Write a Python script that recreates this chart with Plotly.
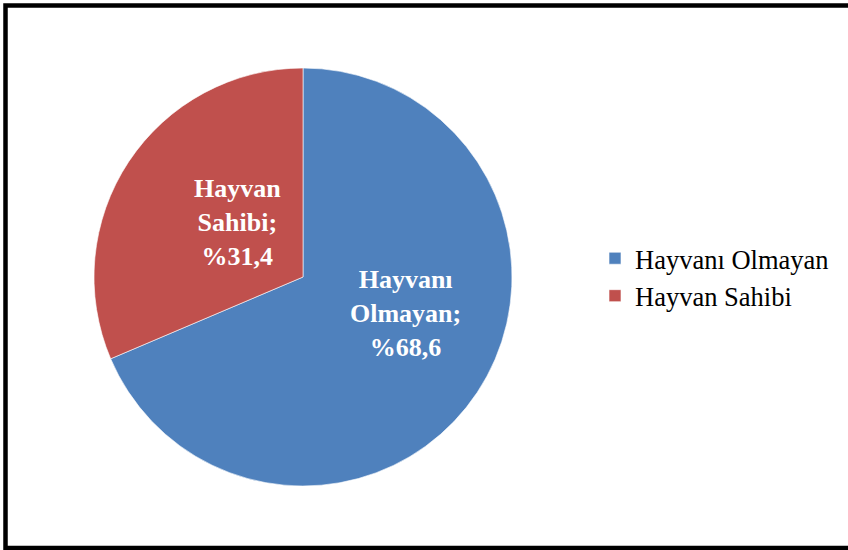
import plotly.graph_objects as go

W, H = 848, 550

labels = ["Hayvanı Olmayan", "Hayvan Sahibi"]
values = [68.6, 31.4]
slice_names = ["Hayvanı<br>Olmayan;", "Hayvan<br>Sahibi;"]
colors = ["#4F81BD", "#C0504D"]

label_text = [f"{t}<br>%{v:.1f}".replace(".", ",") for t, v in zip(slice_names, values)]
# label anchor positions (pixels in the figure)
label_pos = [(405, 313), (237, 223)]

fig = go.Figure()
fig.add_trace(go.Pie(
    labels=labels,
    values=values,
    textinfo="none",
    sort=False,
    direction="clockwise",
    rotation=0,
    marker=dict(colors=colors, line=dict(color="#FFFFFF", width=0.6)),
    domain=dict(x=[94 / W, 512 / W], y=[(H - 486) / H, (H - 68) / H]),
    hoverinfo="label+percent",
))

annotations = [
    dict(
        text=txt, x=px / W, y=(H - py) / H, xref="paper", yref="paper",
        xanchor="center", yanchor="middle", showarrow=False, align="center",
        font=dict(family="Liberation Serif", size=26, color="#FFFFFF", weight="bold"),
    )
    for txt, (px, py) in zip(label_text, label_pos)
]

fig.update_layout(
    width=W, height=H,
    margin=dict(l=0, r=0, t=0, b=0),
    paper_bgcolor="#FFFFFF",
    plot_bgcolor="#FFFFFF",
    showlegend=True,
    legend=dict(
        x=595 / W, y=(H - 277) / H, xanchor="left", yanchor="middle",
        font=dict(family="Liberation Serif", size=26.5, color="#000000"),
        itemwidth=30,
        bgcolor="rgba(0,0,0,0)",
    ),
    annotations=annotations,
    shapes=[dict(
        type="rect", xref="paper", yref="paper",
        x0=5.5 / W, x1=852 / W, y0=(H - 548) / H, y1=(H - 5.5) / H,
        line=dict(color="#000000", width=4.5), fillcolor="rgba(0,0,0,0)",
    )],
)

fig.write_html(
    "out.html",
    config={"displayModeBar": False},
    post_script="document.body.style.margin='0';document.body.style.overflow='hidden';",
)
